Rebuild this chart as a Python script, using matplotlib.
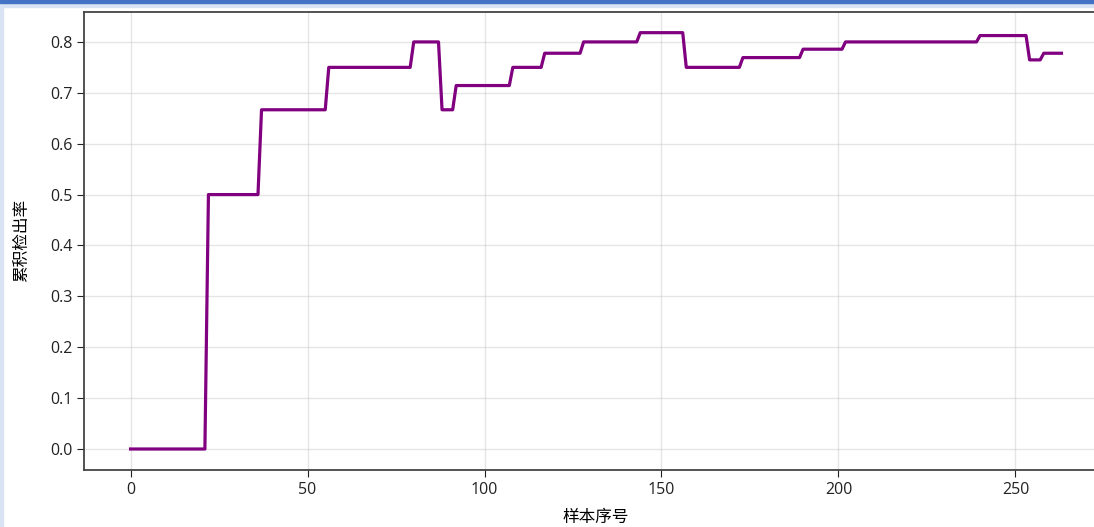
import matplotlib
matplotlib.use('Agg')
import matplotlib.pyplot as plt
import numpy as np
from matplotlib.patches import Rectangle

plt.rcParams['font.family'] = ['Open Sans', 'Noto Sans CJK SC', 'DejaVu Sans']

# step series: index where each level starts, and the level value
step_start = [0, 22, 37, 56, 80, 88, 92, 108, 117, 128, 144, 157, 173, 190, 202, 240, 254, 258]
step_level = [0.0, 1/2, 2/3, 3/4, 4/5, 4/6, 5/7, 6/8, 7/9, 8/10, 9/11, 9/12,
              10/13, 11/14, 12/15, 13/16, 13/17, 14/18]
n_samples = 264

lengths = np.diff(step_start + [n_samples])
rate = np.repeat(step_level, lengths)
x = np.arange(n_samples)

fig = plt.figure(figsize=(10.94, 5.27), dpi=100)
ax = fig.add_axes([0.0768, 0.1085, 0.936, 0.869])

ax.plot(x, rate, color='#800080', linewidth=2.3)
ax.set_xlabel('样本序号', fontsize=12, family=['Noto Sans CJK SC', 'DejaVu Sans'])
ax.set_ylabel('累积检出率', fontsize=12, family=['Noto Sans CJK SC', 'DejaVu Sans'])
ax.xaxis.set_label_coords(0.5, -0.085)
ax.yaxis.set_label_coords(-0.053, 0.5)
ax.grid(True, color='#cccccc', alpha=0.5, linewidth=1)
ax.tick_params(labelsize=11.5, colors='#222222', length=5)
for spine in ax.spines.values():
    spine.set_edgecolor('#444444')
    spine.set_linewidth(1.3)

# screenshot frame
fig.patches.append(Rectangle((0, 1 - 7/527), 1, 7/527, transform=fig.transFigure,
                             color='#dae3f3', zorder=10))
fig.patches.append(Rectangle((0, 1 - 2.5/527), 1, 2.5/527, transform=fig.transFigure,
                             color='#4472c4', zorder=11))
fig.patches.append(Rectangle((0, 0), 2.5/1094, 1, transform=fig.transFigure,
                             color='#dae3f3', zorder=10))

fig.savefig('out.png', dpi=100)
